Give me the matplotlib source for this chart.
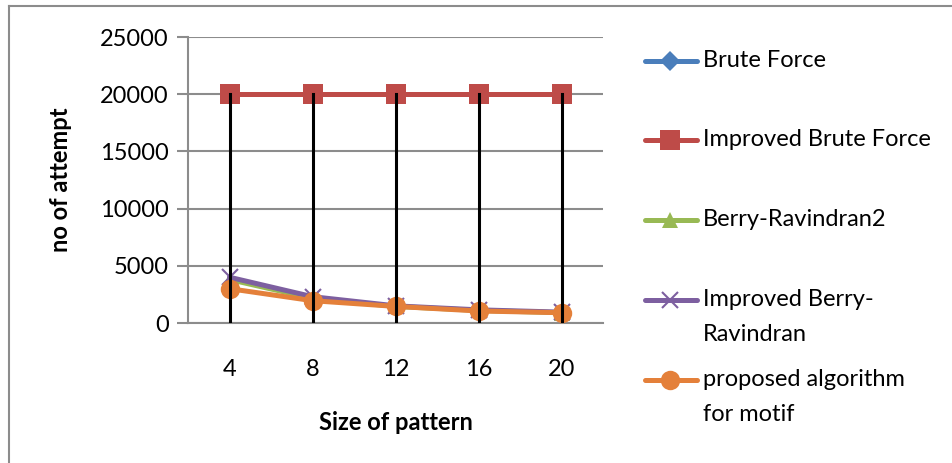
import matplotlib
matplotlib.use("Agg")
import matplotlib.pyplot as plt
from matplotlib.lines import Line2D

plt.rcParams["font.family"] = ["Lato", "DejaVu Sans"]

sizes = ["4", "8", "12", "16", "20"]
brute_force = [20000, 20000, 20000, 20000, 20000]
improved_brute_force = [20000, 20000, 20000, 20000, 20000]
berry_ravindran2 = [3800, 2150, 1450, 1100, 900]
improved_berry_ravindran = [4000, 2300, 1500, 1150, 950]
proposed = [3000, 1950, 1450, 1050, 900]

series = [
    ("Brute Force", brute_force, "#4a7ebb", "D", 10),
    ("Improved Brute Force", improved_brute_force, "#be4b48", "s", 14),
    ("Berry-Ravindran2", berry_ravindran2, "#98b954", "^", 12),
    ("Improved Berry-\nRavindran", improved_berry_ravindran, "#7d5fa0", "x", 11),
    ("proposed algorithm\nfor motif", proposed, "#e4803a", "o", 14),
]

W, H = 952, 463
fig = plt.figure(figsize=(W / 100, H / 100), dpi=100)
ax = fig.add_axes([188 / W, 1 - 323 / H, (603 - 188) / W, (323 - 37) / H])

# outer chart border (left and top only visible)
fig.add_artist(Line2D([9 / W, 9 / W], [0, 1 - 6 / H], color="#8c8c8c", lw=1.5, transform=fig.transFigure))
fig.add_artist(Line2D([9 / W, 1], [1 - 6 / H, 1 - 6 / H], color="#8c8c8c", lw=1.5, transform=fig.transFigure))

x = list(range(len(sizes)))

# drop lines
for i in x:
    top = max(s[1][i] for s in series)
    ax.plot([i, i], [0, top], color="black", lw=2.2, zorder=5)

for name, vals, col, mk, ms in series:
    mew = 1.5 if mk == "x" else 0
    ax.plot(x, vals, color=col, lw=3.6, marker=mk, markersize=ms,
            markeredgewidth=mew, markeredgecolor=col, zorder=3,
            solid_capstyle="round")

ax.set_xlim(-0.5, len(sizes) - 0.5)
ax.set_ylim(0, 25000)
ax.set_yticks(range(0, 25001, 5000))
ax.set_xticks(x)
ax.set_xticklabels(sizes)
ax.yaxis.grid(True, color="#8c8c8c", lw=1.5)
ax.set_axisbelow(True)
for sp in ["top", "right"]:
    ax.spines[sp].set_visible(False)
ax.spines["left"].set_color("#8c8c8c")
ax.spines["left"].set_linewidth(1.5)
ax.spines["bottom"].set_color("#8c8c8c")
ax.spines["bottom"].set_linewidth(1.5)
ax.tick_params(axis="y", length=8, width=1.5, color="#8c8c8c", labelsize=17, pad=6)
ax.tick_params(axis="x", length=0, labelsize=17, pad=26)

ax.set_xlabel("Size of pattern", fontsize=17, fontweight="bold", labelpad=22)
ax.set_ylabel("no of attempt", fontsize=17, fontweight="bold", labelpad=20)

# legend drawn by hand to match the spacing of the original
legend_y = [61, 140, 220, 300, 380]
for (name, vals, col, mk, ms), ly in zip(series, legend_y):
    yf = 1 - ly / H
    mew = 1.5 if mk == "x" else 0
    fig.add_artist(Line2D([645 / W, 697 / W], [yf, yf], color=col, lw=3.6,
                          solid_capstyle="round", transform=fig.transFigure))
    fig.add_artist(Line2D([670 / W], [yf], color=col, marker=mk, markersize=ms,
                          markeredgewidth=mew, markeredgecolor=col,
                          transform=fig.transFigure))
    fig.text(703 / W, yf + 11 / H, name, fontsize=17, va="top", ha="left",
             linespacing=1.85)

fig.savefig("out.png", dpi=100)
